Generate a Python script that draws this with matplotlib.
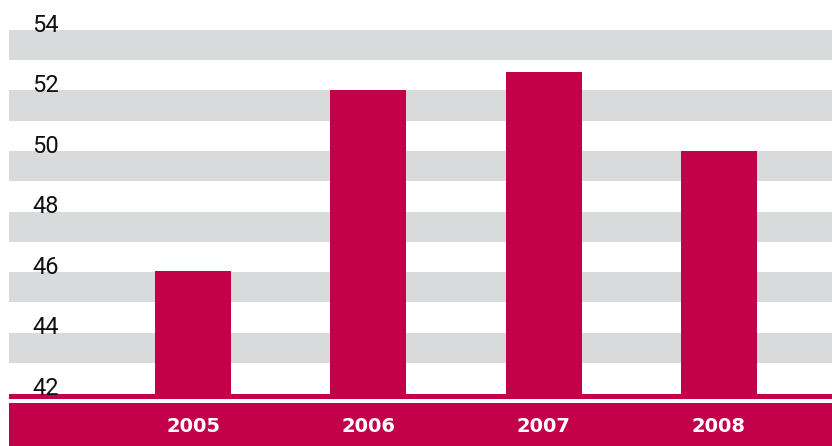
import matplotlib.pyplot as plt

# data
years = ["2005", "2006", "2007", "2008"]
values = [46.05, 52.0, 52.6, 50.0]
ticks = [42, 44, 46, 48, 50, 52, 54]

red = "#c3004a"
grey = "#d9dadc"

fig = plt.figure(figsize=(8.32, 4.46), dpi=100)
ax = fig.add_axes([0, 0, 1, 1])
ax.set_xlim(-1.101, 3.645)
ax.set_ylim(40.25, 54.99)
ax.axis("off")

left = 9 / 832

# grey bands under each tick above the baseline
for t in ticks[1:]:
    ax.axhspan(t - 1, t, xmin=left, xmax=1, color=grey, lw=0, zorder=0)

# bars
x = range(len(years))
ax.bar(x, [v - 41.9 for v in values], bottom=41.9, width=0.434, color=red, zorder=2)

# baseline line and bottom band
ax.axhspan(41.8, 41.97, xmin=left, xmax=1, color=red, lw=0, zorder=3)
ax.axhspan(40.0, 41.67, xmin=left, xmax=1, color=red, lw=0, zorder=3)

# y labels
for t in ticks:
    ax.text(-0.918, t - 0.06, str(t), ha="left", va="baseline",
            fontsize=17, family="Roboto", color="#111111", zorder=5)

# year labels
for i, y in enumerate(years):
    ax.text(i, 40.9, y, ha="center", va="center", fontsize=14,
            fontweight="bold", color="white", zorder=5)

fig.savefig("out.png", dpi=100)
